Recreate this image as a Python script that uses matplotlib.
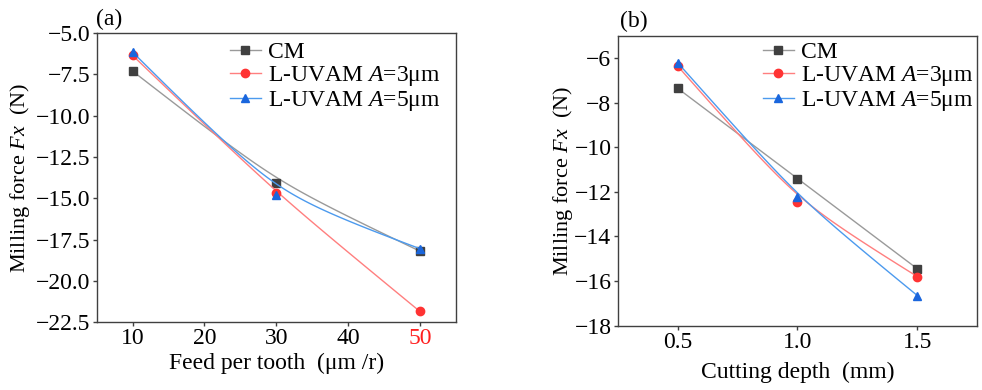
import matplotlib
matplotlib.use('Agg')
import matplotlib.pyplot as plt
import numpy as np

plt.rcParams['font.family'] = ['Liberation Serif', 'DejaVu Serif']
plt.rcParams['mathtext.fontset'] = 'custom'
plt.rcParams['mathtext.rm'] = 'Liberation Serif'
plt.rcParams['mathtext.it'] = 'Liberation Serif:italic'

# Datos panel (a): avance por diente
feed = [10, 30, 50]
feed_cm = [-7.3, -14.05, -18.2]
feed_a3 = [-6.35, -14.7, -21.85]
feed_a5 = [-6.15, -14.8, -18.05]

# Datos panel (b): profundidad de corte
depth = [0.5, 1.0, 1.5]
depth_cm = [-7.35, -11.4, -15.45]
depth_a3 = [-6.35, -12.45, -15.8]
depth_a5 = [-6.2, -12.25, -16.65]

feed_ticks = [10, 20, 30, 40, 50]
feed_yticks = [-5.0, -7.5, -10.0, -12.5, -15.0, -17.5, -20.0, -22.5]
depth_ticks = [0.5, 1.0, 1.5]
depth_yticks = [-6, -8, -10, -12, -14, -16, -18]

labels = ['CM', 'L-UVAM $\\mathit{A}$=3\u03bcm', 'L-UVAM $\\mathit{A}$=5\u03bcm']
line_colors = ['#9a9a9a', '#ff7f7f', '#4c9aee']
mark_colors = ['#404040', '#ff3333', '#1a66dd']
markers = ['s', 'o', '^']

FS = 17


# curva suave tipo B-spline (bezier racional cuadratico)
def suavizar(x, y, w=3.0, n=100):
    t = np.linspace(0, 1, n)
    b0 = (1 - t) ** 2
    b1 = 2 * w * t * (1 - t)
    b2 = t ** 2
    den = b0 + b1 + b2
    xs = (b0 * x[0] + b1 * x[1] + b2 * x[2]) / den
    ys = (b0 * y[0] + b1 * y[1] + b2 * y[2]) / den
    return xs, ys


def menos(v, fmt):
    return (fmt % v).replace('-', '\u2212')


def dibujar(ax, x, series, xt, yt, xfmt, yfmt, ley_x, ley_y):
    for ys, lab, lc, mc, mk in zip(series, labels, line_colors, mark_colors, markers):
        xs, yy = suavizar(x, ys)
        ax.plot(xs, yy, color=lc, lw=1.0)
        ax.plot(x, ys, linestyle='none', marker=mk, color=mc, ms=6)
        ax.plot([], [], color=lc, lw=1.0, marker=mk, mfc=mc, mec=mc, ms=6, label=lab)
    for s in ax.spines.values():
        s.set_color('#404040')
        s.set_linewidth(1.0)
    ax.set_xticks(xt)
    ax.set_xticklabels([menos(v, xfmt) for v in xt], fontsize=FS)
    ax.set_yticks(yt)
    ax.set_yticklabels([menos(v, yfmt) for v in yt], fontsize=FS)
    ax.tick_params(direction='out', length=3, width=1, color='#404040', pad=1.5)
    ax.legend(loc='upper left', frameon=False, fontsize=FS, handlelength=1.3,
              handletextpad=0.3, labelspacing=0.05, borderaxespad=0, borderpad=0,
              bbox_to_anchor=(ley_x, ley_y))


fig = plt.figure(figsize=(9.82, 3.9), dpi=100)

ax1 = fig.add_axes([0.0985, 0.174, 0.3656, 0.741])
dibujar(ax1, feed, [feed_cm, feed_a3, feed_a5], feed_ticks, feed_yticks,
        '%d', '%.1f', 0.371, 0.972)
ax1.set_xlim(5, 55)
ax1.set_ylim(-22.5, -5.0)
ax1.get_xticklabels()[-1].set_color('#ff2020')
ax1.set_xlabel('Feed per tooth  (\u03bcm /r)', fontsize=FS)
ax1.set_ylabel('Milling force $\\mathit{Fx}$  (N)', fontsize=16)
ax1.xaxis.set_label_coords(0.5, -0.106, transform=ax1.transAxes)
ax1.yaxis.set_label_coords(-0.18, 0.5, transform=ax1.transAxes)
fig.text(0.098, 0.95, '(a)', fontsize=FS, ha='left', va='center')

ax2 = fig.add_axes([0.629, 0.165, 0.3662, 0.743])
dibujar(ax2, depth, [depth_cm, depth_a3, depth_a5], depth_ticks, depth_yticks,
        '%.1f', '%d', 0.404, 0.981)
ax2.set_xlim(0.25, 1.75)
ax2.set_ylim(-18, -5)
ax2.set_xlabel('Cutting depth  (mm)', fontsize=FS)
ax2.set_ylabel('Milling force $\\mathit{Fx}$  (N)', fontsize=16)
ax2.xaxis.set_label_coords(0.5, -0.125, transform=ax2.transAxes)
ax2.yaxis.set_label_coords(-0.12, 0.5, transform=ax2.transAxes)
fig.text(0.631, 0.945, '(b)', fontsize=FS, ha='left', va='center')

plt.savefig('out.png', dpi=100, facecolor='white')
plt.close()
